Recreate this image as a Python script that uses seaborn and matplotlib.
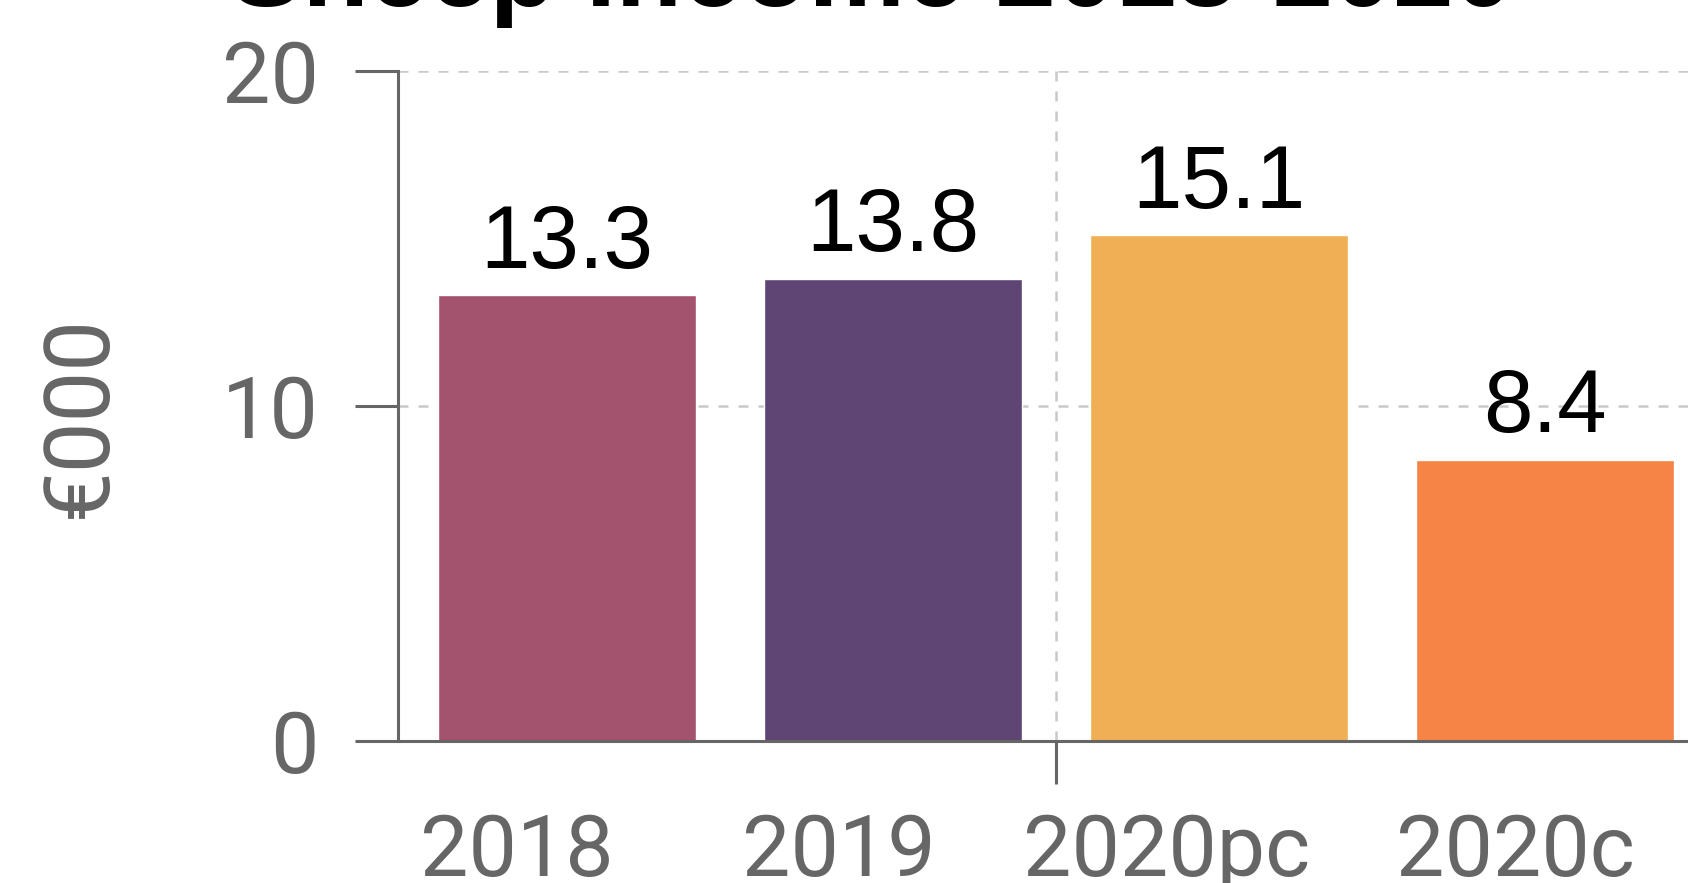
import matplotlib
matplotlib.use("Agg")
import matplotlib.pyplot as plt
import seaborn as sns
import pandas as pd
from matplotlib.ticker import FixedLocator, FixedFormatter, NullFormatter

# Data
categories = ["2018", "2019", "2020pc", "2020c"]
income = [13.3, 13.8, 15.1, 8.4]
bar_colors = ["#A3536D", "#5E4573", "#F0AE55", "#F58446"]
y_ticks = [0, 10, 20]
title_text = "Sheep Income 2018-2020"
y_label = "€000"

# Styling
sns.set_theme(style="white")
plt.rcParams["font.family"] = ["Roboto", "DejaVu Sans"]
axis_grey = "#666666"
grid_grey = "#c9c9c9"
grid_dash = (0, (4, 4))

fig = plt.figure(figsize=(16.88, 8.83), dpi=100)
ax = fig.add_axes([0.2358, 0.1608, 0.7953, 0.7588])

df = pd.DataFrame({"year": categories, "income": income})
sns.barplot(data=df, x="year", y="income", hue="year", order=categories,
            hue_order=categories, palette=bar_colors, width=0.79,
            saturation=1, legend=False, ax=ax, zorder=2)

# Value labels above each bar
for cont, v in zip(ax.containers, income):
    ax.bar_label(cont, labels=[f"{v:.1f}"], padding=6, fontsize=64,
                 family=["Liberation Sans", "DejaVu Sans"], color="black")

# Axes limits
ax.set_ylim(0, 20)
ax.set_xlim(-0.518, 3.6)

# Y axis
ax.set_yticks(y_ticks)
ax.tick_params(axis="y", left=True, length=31, width=2.2, color=axis_grey,
               pad=26, labelsize=62, labelcolor=axis_grey)

# X axis: one divider tick between actual and projected years, labels on minor ticks
label_shift = [-0.155, -0.165, -0.16, -0.09]
label_pos = [i + s for i, s in enumerate(label_shift)]
ax.xaxis.set_major_locator(FixedLocator([1.5]))
ax.xaxis.set_major_formatter(NullFormatter())
ax.xaxis.set_minor_locator(FixedLocator(label_pos))
ax.xaxis.set_minor_formatter(FixedFormatter(categories))
ax.tick_params(axis="x", which="major", length=31, width=2.2, color=axis_grey,
               direction="out", bottom=True)
ax.tick_params(axis="x", which="minor", length=0, pad=51, labelsize=62,
               labelcolor=axis_grey, bottom=True)

ax.set_xlabel("")
ax.set_ylabel(y_label, fontsize=65, color=axis_grey)
ax.yaxis.set_label_coords(-0.204, 0.484)

# Spines
for side in ("top", "right"):
    ax.spines[side].set_visible(False)
for side in ("left", "bottom"):
    ax.spines[side].set_color(axis_grey)
    ax.spines[side].set_linewidth(2.2)

# Dashed gridlines
ax.set_axisbelow(True)
ax.yaxis.grid(True, color=grid_grey, linestyle=grid_dash, linewidth=1.8)
ax.xaxis.grid(False)
ax.axvline(1.5, color=grid_grey, linestyle=grid_dash, linewidth=1.8, zorder=0)

# Title
fig.text(230 / 1688, 1 - 6 / 883, title_text, fontsize=78, fontweight="bold",
         family=["Liberation Sans", "DejaVu Sans"], ha="left", va="baseline",
         color="black")

fig.savefig("out.png", dpi=100)
